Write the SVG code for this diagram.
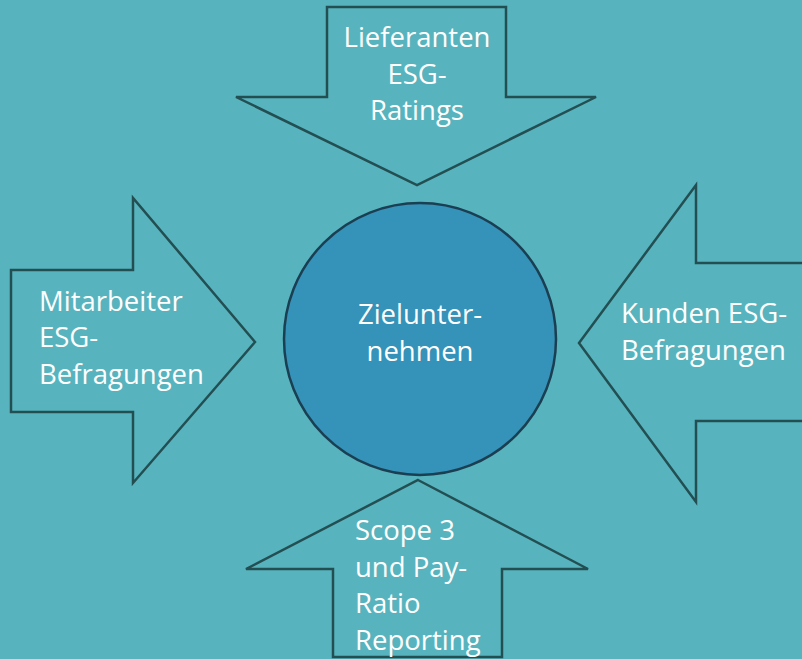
<svg xmlns="http://www.w3.org/2000/svg" width="802" height="659" viewBox="0 0 802 659">
  <style>
    .arrow { fill: #57b4be; stroke: #234f53; stroke-width: 2.5; stroke-linejoin: miter; }
    .hub { fill: #3592b8; stroke: #1b3f52; stroke-width: 2.5; }
    .lbl { font-family: "Open Sans", "Liberation Sans", sans-serif; font-size: 27.5px; fill: #ffffff; }
    .mid { text-anchor: middle; }
  </style>
  <rect width="802" height="659" fill="#57b4be"/>

  <g id="arrow-top">
    <polygon class="arrow" points="327,7 506,7 506,97 596,97 417,185 236,97 327,97"/>
    <text class="lbl mid" x="417" y="47">Lieferanten</text>
    <text class="lbl mid" x="417" y="84">ESG-</text>
    <text class="lbl mid" x="417" y="120">Ratings</text>
  </g>

  <g id="arrow-left">
    <polygon class="arrow" points="11,270 133,270 133,198 255,342 133,483 133,412 11,412"/>
    <text class="lbl" x="39" y="311">Mitarbeiter</text>
    <text class="lbl" x="39" y="347">ESG-</text>
    <text class="lbl" x="39" y="384">Befragungen</text>
  </g>

  <g id="arrow-right">
    <polygon class="arrow" points="810,263 696,263 696,185 579,343 696,502 696,421 810,421"/>
    <text class="lbl" x="621" y="323">Kunden ESG-</text>
    <text class="lbl" x="621" y="360">Befragungen</text>
  </g>

  <g id="arrow-bottom">
    <polygon class="arrow" points="418,480 588,569 502,569 502,657 333,657 333,569 246,569"/>
    <text class="lbl" x="355" y="540">Scope 3</text>
    <text class="lbl" x="355" y="577">und Pay-</text>
    <text class="lbl" x="355" y="613">Ratio</text>
    <text class="lbl" x="355" y="650">Reporting</text>
  </g>

  <g id="hub">
    <circle class="hub" cx="420" cy="339" r="136"/>
    <text class="lbl mid" x="420" y="324">Zielunter-</text>
    <text class="lbl mid" x="420" y="361">nehmen</text>
  </g>

  <g id="connectors"/>
</svg>
